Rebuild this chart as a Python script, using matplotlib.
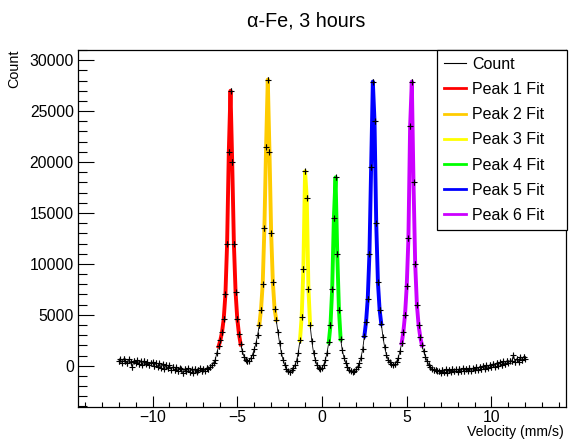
import numpy as np
import matplotlib
matplotlib.use('Agg')
import matplotlib.pyplot as plt
from matplotlib.lines import Line2D
from matplotlib.ticker import MultipleLocator

plt.rcParams['font.family'] = ['Liberation Sans', 'DejaVu Sans']

# velocity channels, -12 .. 12 mm/s in 0.1 steps
velocity = np.round(np.arange(-12.0, 12.05, 0.1), 2)

# counts (one row = 1 mm/s)
counts = np.array([
    450, 650, 300, 700, 420, 250, 620, 380, -150, 500,          # -12.0
    300, 520, 150, 450, 100, 480, 200, 380, 50, 300,            # -11.0
    350, -50, 280, -100, 250, -200, 150, -300, 80, -250,        # -10.0
    50, -400, -100, -450, -150, -550, -250, -350, -750, -300,   # -9.0
    -550, -250, -650, -350, -700, -300, -600, -400, -250, -550, # -8.0
    -300, -500, -200, -350, -120, 40, 300, 600, 1300, 1900,     # -7.0
    2500, 3300, 4600, 7000, 12000, 21000, 27000, 20000, 12000, 7200,  # -6.0
    4600, 3100, 2100, 1400, 900, 600, 420, 500, 750, 1100,      # -5.0
    1600, 2200, 3000, 4000, 5500, 8000, 13500, 21500, 28100, 21000,   # -4.0
    13000, 8200, 5600, 4500, 3300, 2200, 1300, 600, 100, -300,  # -3.0
    -550, -650, -450, -250, 50, 500, 1300, 2500, 4800, 9500,    # -2.0
    19100, 16500, 7500, 4000, 2400, 1300, 600, 100, -200, -300, # -1.0
    -200, 100, 600, 1300, 2300, 4000, 7500, 14500, 18500, 11000,  # 0.0
    5500, 2600, 1500, 800, 300, -100, -400, -500, -600, -550,   # 1.0
    -350, -100, 250, 800, 1600, 2900, 4300, 6600, 11000, 19500, # 2.0
    27900, 24000, 14000, 8200, 5500, 4100, 2800, 1800, 1100, 600,  # 3.0
    350, 150, 80, 150, 400, 800, 1400, 2200, 3300, 5000,        # 4.0
    7800, 12500, 23500, 27900, 18000, 10000, 6000, 4000, 2800, 2000,  # 5.0
    1400, 900, 450, 100, -150, -300, -420, -380, -500, -560,    # 6.0
    -700, -400, -650, -350, -680, -400, -600, -300, -550, -350, # 7.0
    -600, -280, -520, -250, -560, -300, -480, -200, -500, -250, # 8.0
    -420, -120, -380, -80, -320, 0, -280, 30, -200, 100,        # 9.0
    -150, 200, -80, 280, 0, 350, 60, 420, 150, 480,             # 10.0
    300, 500, 450, 1050, 350, 700, 400, 850, 550, 900,          # 11.0
    700,                                                        # 12.0
])
count_err = 250

fit_labels = ['Peak 1 Fit', 'Peak 2 Fit', 'Peak 3 Fit', 'Peak 4 Fit', 'Peak 5 Fit', 'Peak 6 Fit']
fit_colors = ['#ff0000', '#ffcc00', '#ffff00', '#00ff00', '#0000ff', '#cc00ff']
fit_lo = [-6.1, -3.7, -1.3, 0.4, 2.5, 4.7]
fit_hi = [-4.8, -2.7, -0.7, 1.1, 3.5, 5.9]

W, H = 569, 440
fig = plt.figure(figsize=(W / 100, H / 100), dpi=100)
ax = fig.add_axes([78 / W, 33 / H, 488 / W, 357 / H])

ax.plot(velocity, counts, color='black', lw=0.6, zorder=1)

# fits (drawn through the data inside each fit range)
for lo, hi, c in zip(fit_lo, fit_hi, fit_colors):
    m = (velocity >= lo - 1e-6) & (velocity <= hi + 1e-6)
    ax.plot(velocity[m], counts[m], color=c, lw=2.8, zorder=2)

ax.errorbar(velocity, counts, yerr=count_err, fmt='+', color='black',
            ms=5, mew=0.8, elinewidth=0.8, zorder=3)

ax.set_xlim(-14.4, 14.4)
ax.set_ylim(-4050, 31000)
ax.xaxis.set_major_locator(MultipleLocator(5))
ax.xaxis.set_minor_locator(MultipleLocator(1))
ax.yaxis.set_major_locator(MultipleLocator(5000))
ax.yaxis.set_minor_locator(MultipleLocator(1000))
ax.tick_params(which='both', direction='in', top=False, right=False, labelsize=11.3, width=0.8)
ax.tick_params(axis='x', which='major', length=7.7, pad=2.5)
ax.tick_params(axis='x', which='minor', length=3.6)
ax.tick_params(axis='y', which='major', length=11.5, pad=3)
ax.tick_params(axis='y', which='minor', length=6.5)
for s in ax.spines.values():
    s.set_linewidth(0.9)

fig.text(306 / W, 1 - 21 / H, 'α-Fe, 3 hours', ha='center', va='center', fontsize=14.2)
fig.text(14 / W, 1 - 50 / H, 'Count', rotation=90, ha='center', va='top', fontsize=10.4)
fig.text(564 / W, 1 - 432 / H, 'Velocity (mm/s)', ha='right', va='center', fontsize=10.2)

handles = [Line2D([], [], color='black', lw=0.8)]
handles += [Line2D([], [], color=c, lw=2) for c in fit_colors]
leg = fig.legend(handles, ['Count'] + fit_labels,
                 loc='upper left', bbox_to_anchor=(437 / W, 1 - 230 / H, 130 / W, 180 / H),
                 mode='expand', fontsize=11.5, frameon=True, fancybox=False,
                 edgecolor='black', framealpha=1, borderpad=0.42,
                 labelspacing=0.64, handlelength=1.4, handletextpad=0.4,
                 borderaxespad=0)
leg.get_frame().set_linewidth(0.9)
leg.set_zorder(5)

fig.savefig('out.png', dpi=100)
